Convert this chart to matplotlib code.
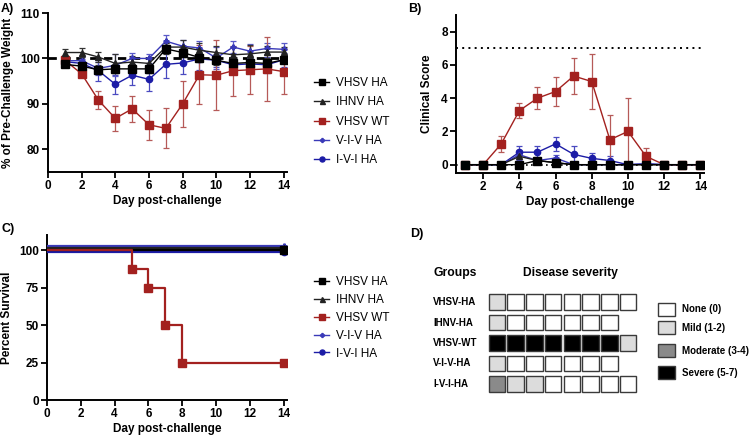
import matplotlib
matplotlib.use("Agg")
import matplotlib.pyplot as plt
from matplotlib.patches import Rectangle
from matplotlib.lines import Line2D
import numpy as np

plt.rcParams['font.family'] = ['Liberation Sans', 'DejaVu Sans']

# ---------------- data ----------------
days = list(range(1, 15))
groups = ["VHSV HA", "IHNV HA", "VHSV WT", "V-I-V HA", "I-V-I HA"]

# Panel A: % of pre-challenge weight
w_vhsv_ha = [98.7, 98.3, 97.5, 97.7, 97.7, 97.7, 102.1, 101.3, 100.2, 99.6, 98.9, 99.1, 98.9, 99.7]
w_ihnv_ha = [101.3, 101.3, 100.3, 98.9, 99.2, 98.9, 102.5, 102.5, 101.8, 101.3, 100.8, 101.0, 101.4, 101.4]
w_vhsv_wt = [99.6, 96.6, 90.8, 86.8, 88.9, 85.4, 84.6, 90.0, 96.4, 96.3, 97.3, 97.5, 97.7, 97.1]
w_viv_ha = [99.5, 99.5, 97.8, 98.5, 100.0, 100.0, 103.8, 102.7, 102.3, 100.1, 102.5, 101.6, 102.2, 102.0]
w_ivi_ha = [99.3, 98.9, 97.3, 94.3, 96.3, 95.4, 98.7, 99.0, 99.9, 99.6, 98.6, 98.8, 98.6, 99.7]
e_vhsv_ha = [0.6, 0.7, 1.0, 1.0, 1.0, 0.9, 1.2, 1.0, 1.0, 1.0, 1.0, 0.9, 1.0, 0.8]
e_ihnv_ha = [0.8, 0.9, 1.1, 2.0, 1.4, 1.2, 1.0, 1.5, 1.5, 1.5, 1.8, 2.0, 1.4, 1.2]
e_vhsv_wt = [0.4, 0.5, 2.0, 2.7, 2.9, 3.3, 4.4, 5.1, 6.5, 7.7, 5.5, 5.3, 7.1, 4.9]
e_viv_ha = [0.8, 0.8, 1.5, 2.4, 1.2, 1.0, 1.3, 1.4, 1.5, 2.4, 1.3, 1.6, 1.3, 1.3]
e_ivi_ha = [0.9, 1.0, 2.3, 2.1, 2.1, 2.5, 3.0, 2.4, 2.5, 1.4, 1.6, 1.4, 1.7, 1.6]

# Panel B: clinical score
c_vhsv_ha = [0, 0, 0, 0, 0.25, 0.12, 0, 0, 0, 0, 0, 0, 0, 0]
c_ihnv_ha = [0, 0, 0, 0.5, 0.25, 0.12, 0, 0, 0, 0, 0, 0, 0, 0]
c_vhsv_wt = [0, 0, 1.25, 3.25, 4.0, 4.4, 5.33, 5.0, 1.5, 2.0, 0.5, 0, 0, 0]
c_viv_ha = [0, 0, 0, 0.6, 0.25, 0.4, 0, 0, 0, 0, 0.05, 0, 0, 0]
c_ivi_ha = [0, 0, 0, 0.75, 0.75, 1.25, 0.62, 0.38, 0.25, 0, 0.05, 0, 0, 0]
ce_vhsv_wt = [0, 0, 0.48, 0.45, 0.65, 0.85, 1.07, 1.67, 1.5, 2.0, 0.5, 0, 0, 0]
ce_viv_ha = [0, 0, 0, 0.3, 0.2, 0.2, 0, 0, 0, 0, 0, 0, 0, 0]
ce_ivi_ha = [0, 0, 0, 0.4, 0.4, 0.42, 0.5, 0.35, 0.25, 0, 0, 0, 0, 0]
clinical_limit = 7

# Panel C: survival
surv_days_wt = [0, 5, 6, 7, 8, 14]
surv_wt = [100, 87.5, 75, 50, 25, 25]
surv_days_other = [0, 14]
surv_other = [100, 100]

# Panel D: disease severity (0 none, 1 mild, 2 moderate, 3 severe)
d_groups = ["VHSV-HA", "IHNV-HA", "VHSV-WT", "V-I-V-HA", "I-V-I-HA"]
d_scores = [
    [1, 0, 0, 0, 0, 0, 0, 0],
    [1, 0, 0, 0, 0, 0, 0],
    [3, 3, 3, 3, 3, 3, 3, 1],
    [1, 0, 0, 0, 0, 0, 0],
    [2, 1, 1, 0, 0, 0, 0, 0],
]
sev_labels = ["None (0)", "Mild (1-2)", "Moderate (3-4)", "Severe (5-7)"]

# ---------------- styles ----------------
RED = "#a3211f"
RED_ERR = "#b65a58"
BLUE1 = "#3a3ab8"   # V-I-V
BLUE2 = "#1c1ca6"   # I-V-I
styles = {
    "VHSV HA": dict(color="black", marker="s", ms=5.5),
    "IHNV HA": dict(color="#222222", marker="^", ms=4.5),
    "VHSV WT": dict(color=RED, marker="s", ms=6),
    "V-I-V HA": dict(color=BLUE1, marker="P", ms=3.5),
    "I-V-I HA": dict(color=BLUE2, marker="o", ms=4.5),
}
err_colors = {"VHSV HA": "#333333", "IHNV HA": "#333333", "VHSV WT": RED_ERR,
              "V-I-V HA": "#5a5ac8", "I-V-I HA": "#4a4ac0"}

W, H = 749, 440
fig = plt.figure(figsize=(W / 100, H / 100), dpi=100)

def px_axes(l, t, r, b):
    return fig.add_axes([l / W, 1 - b / H, (r - l) / W, (b - t) / H])

def style_axes(ax):
    for s in ["top", "right"]:
        ax.spines[s].set_visible(False)
    for s in ["left", "bottom"]:
        ax.spines[s].set_linewidth(1.4)
    ax.tick_params(direction="out", length=4, width=1.3, labelsize=8.5, pad=2)
    for lab in ax.get_xticklabels() + ax.get_yticklabels():
        lab.set_fontweight("bold")

# ---------------- Panel A ----------------
axA = px_axes(48, 13, 287, 172)
axA.axhline(100, color="black", lw=2.0, ls=(0, (3, 2)), zorder=1)
seriesA = [("I-V-I HA", w_ivi_ha, e_ivi_ha), ("V-I-V HA", w_viv_ha, e_viv_ha),
           ("VHSV WT", w_vhsv_wt, e_vhsv_wt), ("IHNV HA", w_ihnv_ha, e_ihnv_ha),
           ("VHSV HA", w_vhsv_ha, e_vhsv_ha)]
for name, y, e in seriesA:
    st = styles[name]
    axA.errorbar(days, y, yerr=e, fmt="none", ecolor=err_colors[name], elinewidth=0.9,
                 capsize=2.5, capthick=0.9, zorder=2)
    axA.plot(days, y, color=st["color"], marker=st["marker"], ms=st["ms"], lw=1.0, zorder=3)
axA.set_xlim(0, 14.2)
axA.set_ylim(75, 110)
axA.set_xticks(range(0, 15, 2))
axA.set_yticks([80, 90, 100, 110])
style_axes(axA)
axA.set_xlabel("Day post-challenge", fontsize=8.5, fontweight="bold", labelpad=2)
axA.set_ylabel("% of Pre-Challenge Weight", fontsize=8.5, fontweight="bold", labelpad=4)

def legend_handles():
    hs = []
    for name in groups:
        st = styles[name]
        hs.append(Line2D([], [], color=st["color"], marker=st["marker"], ms=st["ms"] * 0.8, lw=1.0))
    return hs

fig.legend(legend_handles(), groups, loc="upper left", bbox_to_anchor=(314 / W, 1 - 77 / H),
           frameon=False, fontsize=8.5, handlelength=1.3, handletextpad=0.6,
           labelspacing=0.62, borderpad=0, borderaxespad=0)

# ---------------- Panel B ----------------
axB = px_axes(456, 15, 704, 173)
axB.axhline(clinical_limit, color="black", lw=1.4, ls=(0, (1, 2.2)), zorder=1)
seriesB = [("I-V-I HA", c_ivi_ha, ce_ivi_ha), ("V-I-V HA", c_viv_ha, ce_viv_ha),
           ("VHSV WT", c_vhsv_wt, ce_vhsv_wt), ("IHNV HA", c_ihnv_ha, None),
           ("VHSV HA", c_vhsv_ha, None)]
for name, y, e in seriesB:
    st = styles[name]
    if e is not None:
        ya = np.array(y)
        ea = np.array(e)
        mask = ea > 0
        axB.errorbar(np.array(days)[mask], ya[mask], yerr=ea[mask], fmt="none",
                     ecolor=err_colors[name], elinewidth=0.9, capsize=2.5, capthick=0.9, zorder=2)
    axB.plot(days, y, color=st["color"], marker=st["marker"], ms=st["ms"], lw=1.0, zorder=3)
axB.axhline(0, color="black", lw=1.2, ls=(0, (1, 2)), zorder=4)
axB.set_xlim(0.5, 14.2)
axB.set_ylim(-0.5, 9)
axB.set_xticks(range(2, 15, 2))
axB.set_yticks(range(0, 9, 2))
style_axes(axB)
axB.set_xlabel("Day post-challenge", fontsize=8.5, fontweight="bold", labelpad=2)
axB.set_ylabel("Clinical Score", fontsize=8.5, fontweight="bold", labelpad=6)

# ---------------- Panel C ----------------
axC = px_axes(47, 235, 287, 400)
offsets = {"VHSV HA": 0.0, "IHNV HA": 1.3, "V-I-V HA": 2.8, "I-V-I HA": -1.4}
for name in ["I-V-I HA", "V-I-V HA", "IHNV HA", "VHSV HA"]:
    st = styles[name]
    yv = np.array(surv_other, dtype=float) + offsets[name]
    axC.step(surv_days_other, yv, where="post", color=st["color"], lw=1.6, zorder=3)
    axC.plot(surv_days_other[-1:], yv[-1:], color=st["color"], marker=st["marker"],
             ms=st["ms"], lw=0, zorder=4)
axC.step(surv_days_wt, surv_wt, where="post", color=RED, lw=1.6, zorder=3)
axC.plot(surv_days_wt[1:], surv_wt[1:], color=RED, marker="s", ms=5.5, lw=0, zorder=4)
axC.set_xlim(0, 14.2)
axC.set_ylim(0, 110)
axC.set_xticks(range(0, 15, 2))
axC.set_yticks([0, 25, 50, 75, 100])
style_axes(axC)
axC.set_xlabel("Day post-challenge", fontsize=8.5, fontweight="bold", labelpad=2)
axC.set_ylabel("Percent Survival", fontsize=8.5, fontweight="bold", labelpad=4)

fig.legend(legend_handles(), groups, loc="upper left", bbox_to_anchor=(314 / W, 1 - 276 / H),
           frameon=False, fontsize=8.5, handlelength=1.3, handletextpad=0.6,
           labelspacing=0.5, borderpad=0, borderaxespad=0)

# ---------------- Panel D ----------------
axD = fig.add_axes([0, 0, 1, 1], zorder=-1)
axD.set_xlim(0, W)
axD.set_ylim(H, 0)
axD.axis("off")
sev_colors = ["white", "#dcdcdc", "#8a8a8a", "black"]
x0, pitch_x, sq_w, sq_h = 488.5, 18.75, 16.5, 15.3
y0, pitch_y = 302, 20.5
axD.text(433, 273, "Groups", fontsize=8.7, fontweight="bold", va="center", ha="left")
axD.text(570, 273, "Disease severity", fontsize=8.7, fontweight="bold", va="center", ha="center")
for i, (g, row) in enumerate(zip(d_groups, d_scores)):
    yc = y0 + i * pitch_y
    axD.text(433, yc, g, fontsize=7, fontweight="bold", va="center", ha="left")
    for j, s in enumerate(row):
        axD.add_patch(Rectangle((x0 + j * pitch_x, yc - sq_h / 2), sq_w, sq_h,
                                facecolor=sev_colors[s], edgecolor="#3a3a3a", lw=1.0))
leg_y = [309.5, 328, 351, 373]
for k, lab in enumerate(sev_labels):
    axD.add_patch(Rectangle((658, leg_y[k] - 6.5), 17, 13, facecolor=sev_colors[k],
                            edgecolor="#3a3a3a", lw=1.0))
    axD.text(682, leg_y[k], lab, fontsize=7, fontweight="bold", va="center", ha="left")

# panel letters
axD.text(1, 9, "A)", fontsize=9, fontweight="bold", va="center", ha="left")
axD.text(408, 9, "B)", fontsize=9, fontweight="bold", va="center", ha="left")
axD.text(1, 229, "C)", fontsize=9, fontweight="bold", va="center", ha="left")
axD.text(410, 234, "D)", fontsize=9, fontweight="bold", va="center", ha="left")

fig.savefig("out.png", dpi=100)
